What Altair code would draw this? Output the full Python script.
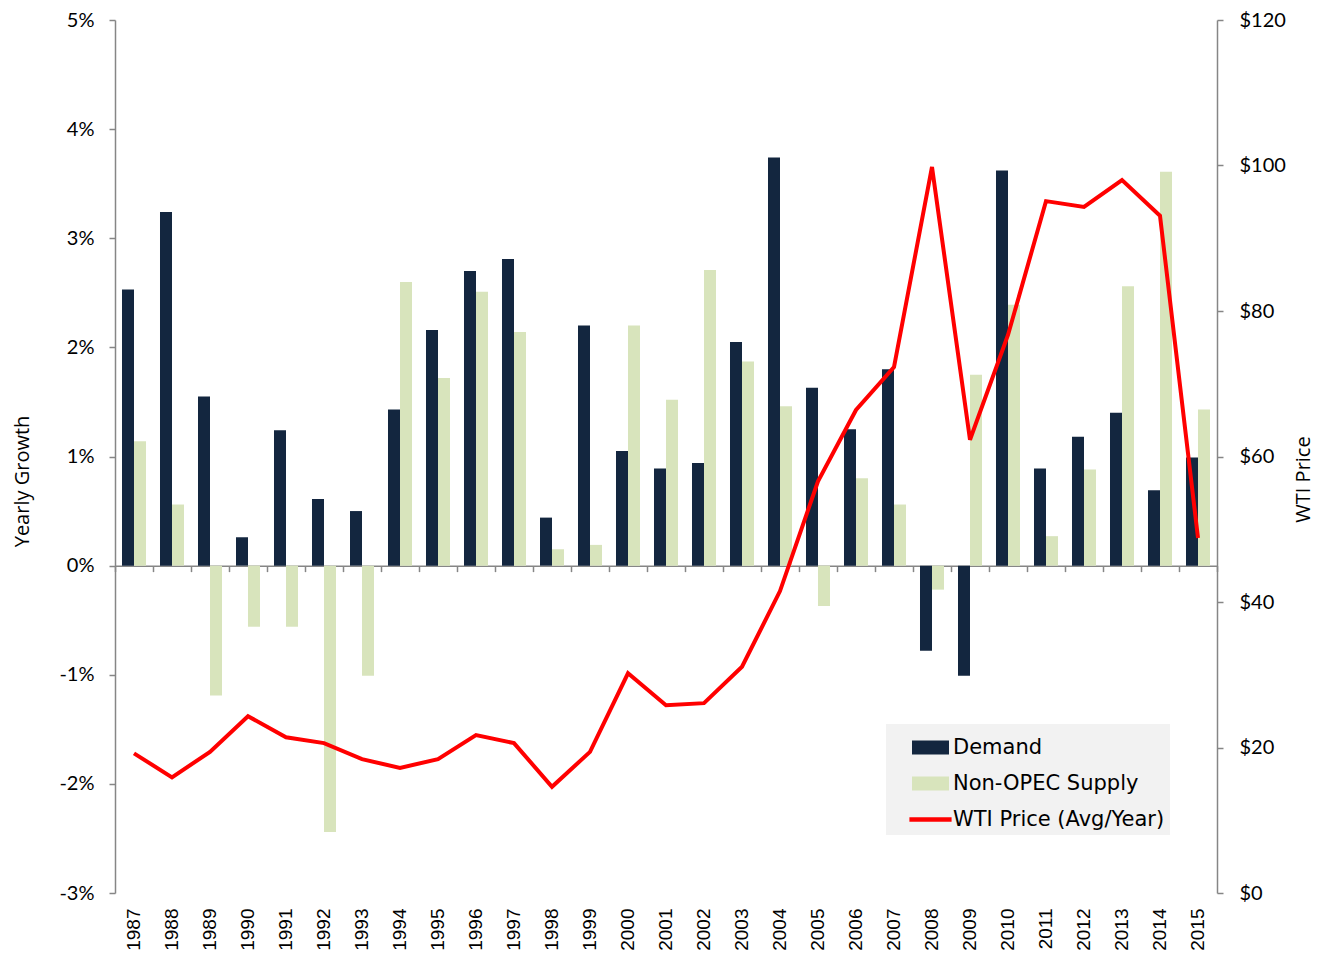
import altair as alt
import pandas as pd

years = [str(y) for y in range(1987, 2016)]

demand = [2.53, 3.24, 1.55, 0.26, 1.24, 0.61, 0.50, 1.43, 2.16, 2.70,
          2.81, 0.44, 2.20, 1.05, 0.89, 0.94, 2.05, 3.74, 1.63, 1.25,
          1.80, -0.78, -1.01, 3.62, 0.89, 1.18, 1.40, 0.69, 0.99]

supply = [1.14, 0.56, -1.19, -0.56, -0.56, -2.44, -1.01, 2.60, 1.72, 2.51,
          2.14, 0.15, 0.19, 2.20, 1.52, 2.71, 1.87, 1.46, -0.37, 0.80,
          0.56, -0.22, 1.75, 2.39, 0.27, 0.88, 2.56, 3.61, 1.43]

wti = [19.2, 15.9, 19.4, 24.3, 21.4, 20.6, 18.4, 17.2, 18.4, 21.7,
       20.6, 14.6, 19.4, 30.2, 25.8, 26.1, 31.1, 41.5, 56.6, 66.4,
       72.3, 99.8, 62.3, 76.7, 95.1, 94.3, 98.0, 93.1, 48.8]

series_names = ["Demand", "Non-OPEC Supply", "WTI Price (Avg/Year)"]
series_colors = ["#13263f", "#d8e4bc", "#ff0000"]
legend_shapes = ["M-1,-0.38H1V0.38H-1Z", "M-1,-0.38H1V0.38H-1Z",
                 "M-1.14,-0.12H1.14V0.12H-1.14Z"]

pct_ticks = [-3, -2, -1, 0, 1, 2, 3, 4, 5]
price_ticks = [0, 20, 40, 60, 80, 100, 120]

bars_df = pd.DataFrame({
    "year": years * 2,
    "series": ["Demand"] * len(years) + ["Non-OPEC Supply"] * len(years),
    "growth": demand + supply,
})
price_df = pd.DataFrame({"year": years, "price": wti})
legend_df = pd.DataFrame({"series": series_names})

GRAY = "#868686"
W, H = 1102, 873
zero_offset = -(H - H * 5 / 8)

xscale = alt.Scale(domain=years, paddingInner=0, paddingOuter=0)
color_scale = alt.Scale(domain=series_names, range=series_colors)
shape_scale = alt.Scale(domain=series_names, range=legend_shapes)

legend_cfg = dict(orient="none", legendX=771, legendY=704, title=None,
                  fillColor="#f2f2f2", padding=5, symbolOffset=21, labelOffset=4,
                  rowPadding=7, labelFont="DejaVu Sans", labelFontSize=21,
                  labelColor="black", labelLimit=400, symbolSize=1369,
                  symbolStrokeWidth=0, symbolOpacity=1)

bars = alt.Chart(bars_df).mark_bar().encode(
    x=alt.X("year:N", scale=xscale, sort=years,
            axis=alt.Axis(orient="bottom", labelAngle=270, domain=False, ticks=False,
                          tickSize=0, labelPadding=15, labelFont="Liberation Sans",
                          labelFontSize=19, labelColor="black", title=None, grid=False)),
    xOffset=alt.XOffset("series:N",
                        scale=alt.Scale(domain=["Demand", "Non-OPEC Supply"],
                                        paddingInner=0, paddingOuter=0.583)),
    y=alt.Y("growth:Q", scale=alt.Scale(domain=[-3, 5], nice=False),
            axis=alt.Axis(orient="left", values=pct_ticks, labelExpr="datum.value + '%'",
                          tickSize=6, tickColor=GRAY, domainColor=GRAY, domainWidth=1.5,
                          tickWidth=1.5, labelFont="Lato", labelFontSize=20,
                          labelColor="black", labelPadding=15, grid=False,
                          title="Yearly Growth", titleFont="Open Sans", titleFontSize=20,
                          titleFontWeight="normal", titleColor="black", titleAngle=270,
                          titleX=-93, titleY=461, titleAlign="center",
                          titleBaseline="middle")),
    color=alt.Color("series:N", scale=color_scale, legend=alt.Legend(**legend_cfg)),
)

line = alt.Chart(price_df).mark_line(color="#ff0000", strokeWidth=4).encode(
    x=alt.X("year:N", scale=xscale, sort=years,
            axis=alt.Axis(orient="bottom", offset=zero_offset, labels=False, domain=True,
                          ticks=True, tickBand="extent", tickSize=6, tickColor=GRAY,
                          tickWidth=1.5, domainColor=GRAY, domainWidth=1.5,
                          title=None, grid=False)),
    y=alt.Y("price:Q", scale=alt.Scale(domain=[0, 120], nice=False),
            axis=alt.Axis(orient="right", values=price_ticks,
                          labelExpr="'$' + datum.value", tickSize=6, tickColor=GRAY,
                          domainColor=GRAY, domainWidth=1.5, tickWidth=1.5,
                          labelFont="Lato", labelFontSize=20, labelColor="black",
                          labelPadding=16, grid=False,
                          title="WTI Price", titleFont="Open Sans", titleFontSize=20,
                          titleFontWeight="normal", titleColor="black", titleAngle=270,
                          titleX=86, titleY=459, titleAlign="center",
                          titleBaseline="middle")),
)

leg = alt.Chart(legend_df).mark_point(filled=True, opacity=1, size=1369).encode(
    color=alt.Color("series:N", scale=color_scale, legend=alt.Legend(**legend_cfg)),
    shape=alt.Shape("series:N", scale=shape_scale, legend=alt.Legend(**legend_cfg)),
).transform_filter("false")

chart = alt.layer(bars, line, leg).resolve_scale(
    y="independent"
).resolve_axis(
    x="independent", y="independent"
).properties(
    width=W, height=H, autosize="none",
    padding={"left": 107, "top": 12, "right": 102, "bottom": 58},
).configure_view(stroke=None)

chart.save("out.html", embed_options={"renderer": "svg", "actions": False})
